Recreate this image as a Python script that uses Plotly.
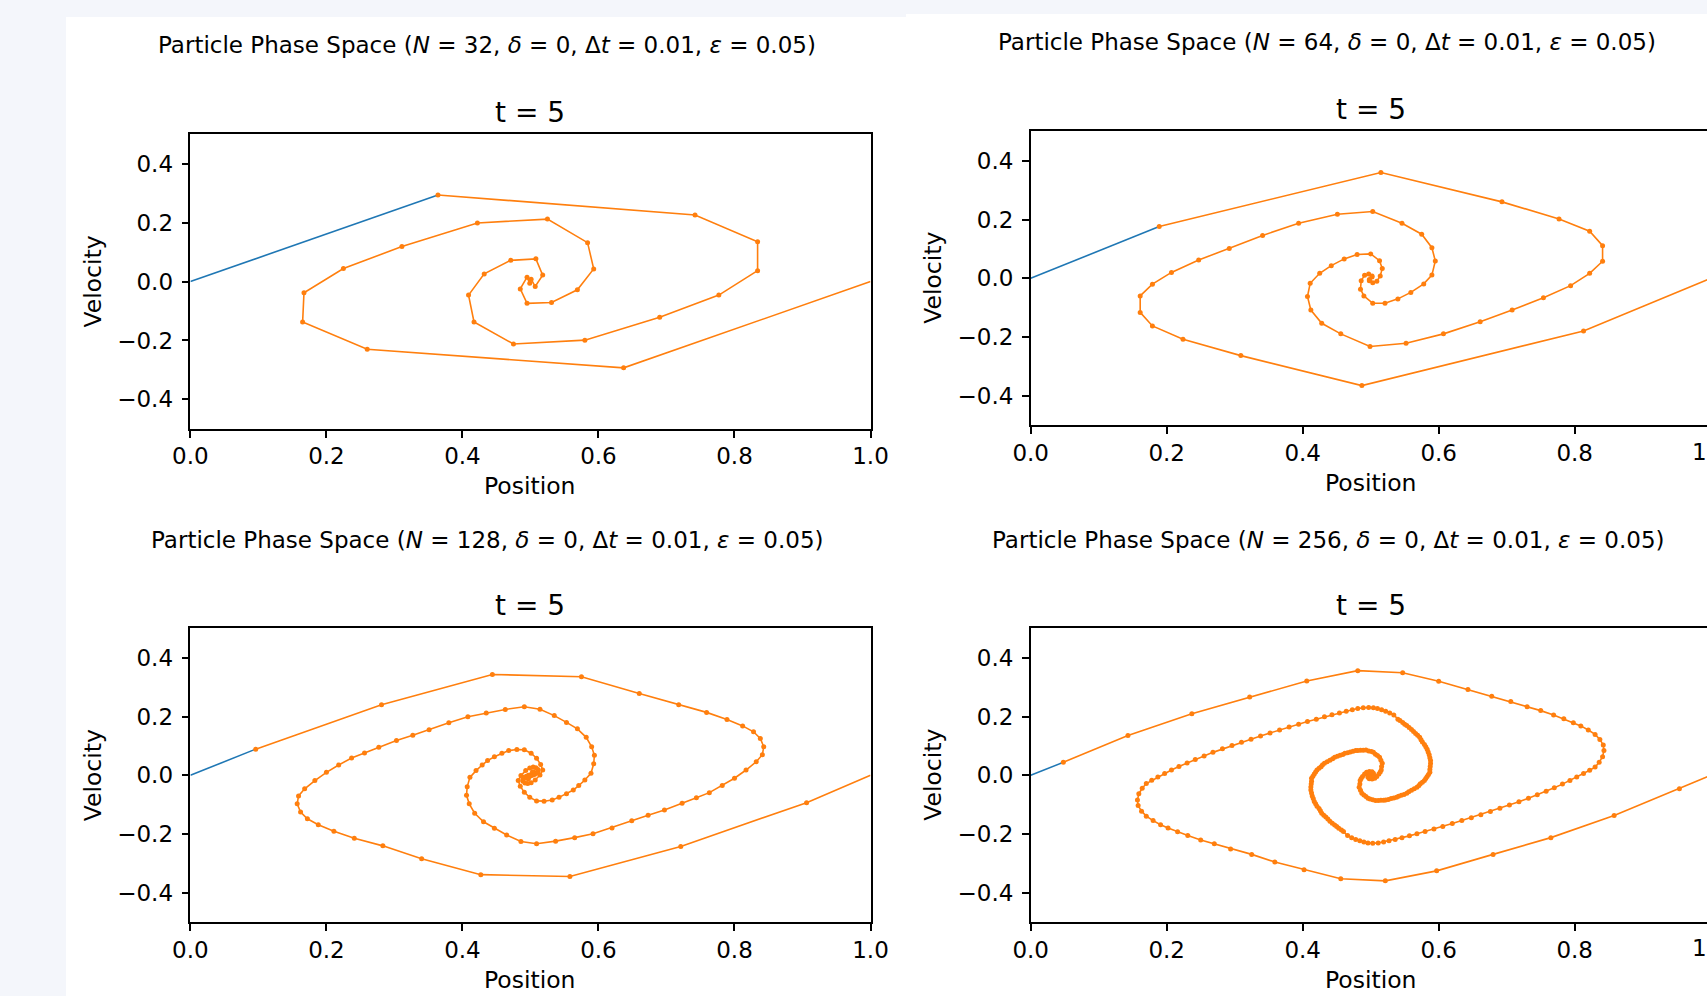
import plotly.graph_objects as go

# ---------------------------------------------------------------
# Particle phase-space snapshots at t = 5 (delta = 0, dt = 0.01, eps = 0.05)
# ---------------------------------------------------------------
x_32 = [0.364, 0.742, 0.834, 0.834, 0.777, 0.690, 0.580, 0.475, 0.417, 0.409,
        0.432, 0.471, 0.508, 0.518, 0.507, 0.501, 0.499, 0.495, 0.485, 0.495,
        0.531, 0.569, 0.593, 0.584, 0.525, 0.422, 0.311, 0.225, 0.167, 0.165,
        0.260, 0.637]
v_32 = [0.294, 0.226, 0.135, 0.037, -0.046, -0.121, -0.199, -0.212, -0.137, -0.046,
        0.026, 0.072, 0.077, 0.022, -0.017, 0.008, -0.006, 0.015, -0.025, -0.074,
        -0.071, -0.028, 0.043, 0.132, 0.212, 0.199, 0.119, 0.044, -0.038, -0.137,
        -0.230, -0.293]

x_64 = [0.189, 0.515, 0.693, 0.777, 0.822, 0.841, 0.841, 0.822, 0.794, 0.754,
        0.708, 0.661, 0.607, 0.552, 0.499, 0.456, 0.428, 0.412, 0.407, 0.411,
        0.425, 0.442, 0.461, 0.480, 0.500, 0.513, 0.517, 0.514, 0.509, 0.503,
        0.498, 0.502, 0.498, 0.502, 0.497, 0.491, 0.486, 0.485, 0.490, 0.503,
        0.521, 0.540, 0.559, 0.578, 0.590, 0.595, 0.590, 0.575, 0.546, 0.503,
        0.451, 0.394, 0.341, 0.292, 0.247, 0.207, 0.179, 0.161, 0.161, 0.179,
        0.224, 0.309, 0.487, 0.813]
v_64 = [0.176, 0.360, 0.260, 0.202, 0.160, 0.111, 0.058, 0.017, -0.025, -0.066,
        -0.108, -0.148, -0.189, -0.221, -0.232, -0.189, -0.153, -0.108, -0.062, -0.017,
        0.017, 0.043, 0.066, 0.081, 0.083, 0.060, 0.033, 0.008, -0.010, -0.015,
        -0.004, 0.008, -0.008, 0.004, 0.015, 0.010, -0.008, -0.037, -0.060, -0.085,
        -0.085, -0.070, -0.048, -0.019, 0.011, 0.059, 0.104, 0.150, 0.187, 0.227,
        0.218, 0.187, 0.146, 0.101, 0.062, 0.020, -0.020, -0.060, -0.116, -0.162,
        -0.207, -0.263, -0.365, -0.179]

x_128 = [0.096, 0.281, 0.444, 0.575, 0.660, 0.718, 0.759, 0.789, 0.812, 0.828,
         0.838, 0.843, 0.841, 0.832, 0.817, 0.800, 0.782, 0.763, 0.744, 0.723,
         0.697, 0.673, 0.649, 0.620, 0.592, 0.565, 0.537, 0.509, 0.486, 0.465,
         0.447, 0.431, 0.418, 0.410, 0.406, 0.407, 0.411, 0.420, 0.429, 0.437,
         0.447, 0.458, 0.468, 0.480, 0.491, 0.501, 0.509, 0.515, 0.518, 0.514,
         0.507, 0.501, 0.496, 0.492, 0.489, 0.489, 0.491, 0.494, 0.497, 0.500,
         0.503, 0.505, 0.505, 0.503, 0.497, 0.495, 0.495, 0.497, 0.500, 0.503,
         0.506, 0.509, 0.511, 0.511, 0.508, 0.504, 0.499, 0.493, 0.486, 0.482,
         0.485, 0.491, 0.499, 0.509, 0.520, 0.532, 0.542, 0.553, 0.563, 0.571,
         0.580, 0.589, 0.593, 0.594, 0.590, 0.582, 0.569, 0.553, 0.535, 0.514,
         0.491, 0.463, 0.435, 0.408, 0.380, 0.351, 0.327, 0.303, 0.277, 0.256,
         0.237, 0.218, 0.200, 0.183, 0.168, 0.159, 0.157, 0.162, 0.172, 0.188,
         0.211, 0.241, 0.283, 0.340, 0.427, 0.558, 0.721, 0.906]
v_128 = [0.089, 0.240, 0.343, 0.335, 0.278, 0.240, 0.214, 0.190, 0.168, 0.148,
         0.125, 0.097, 0.070, 0.046, 0.018, -0.010, -0.035, -0.059, -0.076, -0.095,
         -0.118, -0.136, -0.155, -0.179, -0.199, -0.212, -0.224, -0.233, -0.225, -0.203,
         -0.180, -0.158, -0.129, -0.097, -0.068, -0.039, -0.007, 0.016, 0.035, 0.050,
         0.063, 0.075, 0.084, 0.088, 0.087, 0.075, 0.058, 0.037, 0.018, 0.001,
         -0.016, -0.025, -0.028, -0.026, -0.020, -0.013, -0.007, -0.003, 0.000, 0.002,
         0.004, 0.007, 0.010, 0.012, -0.012, -0.010, -0.007, -0.004, -0.002, 0.000,
         0.003, 0.007, 0.013, 0.020, 0.026, 0.028, 0.025, 0.016, -0.001, -0.018,
         -0.037, -0.058, -0.075, -0.087, -0.088, -0.084, -0.075, -0.063, -0.050, -0.035,
         -0.016, 0.007, 0.039, 0.068, 0.097, 0.129, 0.158, 0.180, 0.203, 0.225,
         0.233, 0.224, 0.212, 0.199, 0.179, 0.155, 0.136, 0.118, 0.095, 0.076,
         0.059, 0.035, 0.010, -0.018, -0.046, -0.070, -0.097, -0.125, -0.148, -0.168,
         -0.190, -0.214, -0.240, -0.284, -0.338, -0.344, -0.242, -0.093]

x_256 = [0.048, 0.143, 0.237, 0.322, 0.406, 0.481, 0.547, 0.600, 0.643, 0.678,
         0.706, 0.730, 0.750, 0.769, 0.784, 0.798, 0.809, 0.820, 0.830, 0.837,
         0.842, 0.843, 0.841, 0.836, 0.830, 0.822, 0.813, 0.803, 0.793, 0.782,
         0.770, 0.758, 0.745, 0.732, 0.718, 0.704, 0.690, 0.676, 0.662, 0.648,
         0.634, 0.620, 0.606, 0.593, 0.580, 0.568, 0.557, 0.546, 0.536, 0.527,
         0.519, 0.511, 0.503, 0.496, 0.490, 0.484, 0.478, 0.472, 0.466, 0.460,
         0.457, 0.453, 0.450, 0.447, 0.4435, 0.440, 0.437, 0.434, 0.431, 0.428,
         0.426, 0.424, 0.421, 0.419, 0.417, 0.4155, 0.414, 0.413, 0.412, 0.412,
         0.4125, 0.413, 0.413, 0.415, 0.417, 0.419, 0.421, 0.424, 0.427, 0.429,
         0.432, 0.436, 0.440, 0.444, 0.447, 0.451, 0.455, 0.459, 0.462, 0.466,
         0.470, 0.474, 0.478, 0.481, 0.485, 0.489, 0.493, 0.497, 0.501, 0.504,
         0.507, 0.510, 0.513, 0.515, 0.517, 0.516, 0.5155, 0.514, 0.512, 0.509,
         0.506, 0.502, 0.498, 0.496, 0.496, 0.498, 0.500, 0.502,
         0.498, 0.500, 0.502, 0.504, 0.504, 0.502, 0.498, 0.494, 0.491, 0.488,
         0.486, 0.4845, 0.484, 0.483, 0.485, 0.487, 0.490, 0.493, 0.496, 0.499,
         0.503, 0.507, 0.511, 0.515, 0.519, 0.522, 0.526, 0.530, 0.534, 0.538,
         0.541, 0.545, 0.549, 0.553, 0.556, 0.560, 0.564, 0.568, 0.571, 0.573,
         0.576, 0.579, 0.581, 0.583, 0.585, 0.587, 0.587, 0.5875, 0.588, 0.588,
         0.587, 0.586, 0.5845, 0.583, 0.581, 0.579, 0.576, 0.574, 0.572, 0.569,
         0.566, 0.563, 0.560, 0.5565, 0.553, 0.550, 0.547, 0.543, 0.540, 0.534,
         0.528, 0.522, 0.516, 0.510, 0.504, 0.497, 0.489, 0.481, 0.473, 0.464,
         0.454, 0.443, 0.432, 0.420, 0.407, 0.394, 0.380, 0.366, 0.352, 0.338,
         0.324, 0.310, 0.296, 0.282, 0.268, 0.255, 0.242, 0.230, 0.218, 0.207,
         0.197, 0.187, 0.178, 0.170, 0.164, 0.159, 0.157, 0.158, 0.163, 0.170,
         0.180, 0.191, 0.202, 0.216, 0.231, 0.250, 0.270, 0.294, 0.325, 0.359,
         0.402, 0.456, 0.5215, 0.597, 0.680, 0.765, 0.858, 0.954]
v_256 = [0.044, 0.135, 0.209, 0.266, 0.321, 0.356, 0.349, 0.320, 0.292, 0.269,
         0.251, 0.233, 0.220, 0.205, 0.192, 0.179, 0.168, 0.154, 0.139, 0.122,
         0.103, 0.084, 0.063, 0.044, 0.028, 0.017, 0.006, -0.006, -0.018, -0.030,
         -0.042, -0.054, -0.066, -0.078, -0.090, -0.101, -0.112, -0.123, -0.134, -0.144,
         -0.154, -0.164, -0.174, -0.183, -0.191, -0.199, -0.206, -0.212, -0.218, -0.223,
         -0.227, -0.230, -0.231, -0.230, -0.227, -0.223, -0.218, -0.212, -0.205, -0.191,
         -0.186, -0.180, -0.174, -0.169, -0.163, -0.156, -0.149, -0.142, -0.136, -0.129,
         -0.121, -0.113, -0.105, -0.097, -0.089, -0.079, -0.070, -0.060, -0.050, -0.040,
         -0.030, -0.020, -0.010, -0.003, 0.004, 0.011, 0.018, 0.024, 0.029, 0.035,
         0.041, 0.046, 0.051, 0.056, 0.061, 0.065, 0.068, 0.071, 0.075, 0.077,
         0.079, 0.082, 0.084, 0.0845, 0.085, 0.0855, 0.086, 0.083, 0.081, 0.078,
         0.072, 0.067, 0.061, 0.051, 0.041, 0.030, 0.018, 0.011, 0.004, -0.004,
         -0.010, -0.013, -0.012, -0.007, -0.001, 0.004, 0.005, 0.003,
         -0.003, -0.005, -0.004, 0.001, 0.007, 0.012, 0.013, 0.010, 0.004, -0.004,
         -0.011, -0.018, -0.030, -0.041, -0.051, -0.061, -0.067, -0.072, -0.078, -0.081,
         -0.083, -0.086, -0.0855, -0.085, -0.0845, -0.084, -0.082, -0.079, -0.077, -0.075,
         -0.071, -0.068, -0.065, -0.061, -0.056, -0.051, -0.046, -0.041, -0.035, -0.029,
         -0.024, -0.018, -0.011, -0.004, 0.003, 0.010, 0.020, 0.030, 0.040, 0.050,
         0.060, 0.070, 0.079, 0.089, 0.097, 0.105, 0.113, 0.121, 0.129, 0.136,
         0.142, 0.149, 0.156, 0.163, 0.169, 0.174, 0.180, 0.186, 0.191, 0.205,
         0.212, 0.218, 0.223, 0.227, 0.230, 0.231, 0.230, 0.227, 0.223, 0.218,
         0.212, 0.206, 0.199, 0.191, 0.183, 0.174, 0.164, 0.154, 0.144, 0.134,
         0.123, 0.112, 0.101, 0.090, 0.078, 0.066, 0.054, 0.042, 0.030, 0.018,
         0.006, -0.006, -0.017, -0.028, -0.044, -0.063, -0.084, -0.103, -0.122, -0.139,
         -0.154, -0.168, -0.179, -0.192, -0.205, -0.220, -0.233, -0.251, -0.269, -0.295,
         -0.321, -0.352, -0.359, -0.325, -0.269, -0.212, -0.137, -0.046]

# periodic boundary points of the domain [0, 1]
x_bounds = [0.0, 1.0]
v_bounds = [0.0, 0.0]

n_labels = [32, 64, 128, 256]
time_label = "t = 5"
x_ticks = [0.0, 0.2, 0.4, 0.6, 0.8, 1.0]
y_ticks = [-0.4, -0.2, 0.0, 0.2, 0.4]

# ---------------------------------------------------------------
# page geometry (pixels)
# ---------------------------------------------------------------
W, H = 1707, 996
PAGE_BG = "#f4f6fb"
BLUE = "#1f77b4"
ORANGE = "#ff7f0e"
FONT = "DejaVu Sans"


def fx(p):
    return p / W


def fy(p):
    return 1 - p / H


# axes boxes: left, right(1.0), top, bottom in pixels
boxes = [
    dict(l=190.4, r=870.5, t=134.3, b=428.8),
    dict(l=1030.7, r=1710.7, t=131.3, b=425.3),
    dict(l=190.4, r=870.5, t=628.3, b=922.3),
    dict(l=1030.7, r=1710.7, t=628.3, b=922.3),
]
# text anchors: suptitle centre, axes-title centre, x-label y, y-label x, tick-label y
texts = [
    dict(sup=(486.6, 45.0), ttl=(530.4, 112.5), xl=486.0, yl=93.0, tk=454.2),
    dict(sup=(1327.2, 42.0), ttl=(1370.7, 109.2), xl=483.3, yl=933.5, tk=451.7),
    dict(sup=(487.5, 539.5), ttl=(530.4, 605.8), xl=980.0, yl=93.0, tk=948.3),
    dict(sup=(1328.0, 539.5), ttl=(1370.7, 605.8), xl=980.0, yl=933.5, tk=948.3),
]

series = [(x_32, v_32), (x_64, v_64), (x_128, v_128), (x_256, v_256)]

fig = go.Figure()
annotations = []
shapes = [
    # white cards behind the two columns
    dict(type="rect", xref="paper", yref="paper", x0=fx(66), x1=fx(906),
         y0=0, y1=fy(17), fillcolor="white", line_width=0, layer="below"),
    dict(type="rect", xref="paper", yref="paper", x0=fx(906), x1=1,
         y0=0, y1=fy(14), fillcolor="white", line_width=0, layer="below"),
]

layout_axes = {}
for i, ((xs, vs), box, tx, n) in enumerate(zip(series, boxes, texts, n_labels)):
    k = i + 1
    xa = "x" if k == 1 else f"x{k}"
    ya = "y" if k == 1 else f"y{k}"

    fig.add_trace(go.Scatter(x=[x_bounds[0], xs[0]], y=[v_bounds[0], vs[0]],
                             mode="lines", line=dict(color=BLUE, width=1.6),
                             xaxis=xa, yaxis=ya, hoverinfo="skip"))
    fig.add_trace(go.Scatter(x=xs + [x_bounds[1]], y=vs + [v_bounds[1]],
                             mode="lines", line=dict(color=ORANGE, width=1.6),
                             xaxis=xa, yaxis=ya, hoverinfo="skip"))
    fig.add_trace(go.Scatter(x=xs, y=vs, mode="markers",
                             marker=dict(color=ORANGE, size=5, line_width=0),
                             xaxis=xa, yaxis=ya, hoverinfo="skip"))

    right_col = box["r"] > W
    x_end = (W - box["l"]) / (box["r"] - box["l"]) if right_col else 1.0
    dom_x = [fx(box["l"]), 1.0 if right_col else fx(box["r"])]
    axis_common = dict(showline=True, linecolor="black", linewidth=1.5,
                       ticks="outside", ticklen=7, tickwidth=1.5, tickcolor="black",
                       showgrid=False, zeroline=False, fixedrange=True,
                       automargin=False,
                       tickfont=dict(family=FONT, size=23, color="black"),
                       tickformat=".1f")
    shown_x = [t for t in x_ticks if t <= x_end]
    layout_axes["xaxis" if k == 1 else f"xaxis{k}"] = dict(
        axis_common, domain=dom_x, range=[0, x_end], tickvals=shown_x,
        anchor=ya, mirror=True, ticklabelstandoff=-1)
    layout_axes["yaxis" if k == 1 else f"yaxis{k}"] = dict(
        axis_common, domain=[fy(box["b"]), fy(box["t"])], range=[-0.5, 0.5],
        tickvals=y_ticks, anchor=xa, mirror=not right_col, ticklabelstandoff=4)

    sup = (f"Particle Phase Space (<i>N</i> = {n}, <i>δ</i> = 0, "
           f"Δ<i>t</i> = 0.01, <i>ε</i> = 0.05)")
    annotations.append(dict(text=sup, x=fx(tx["sup"][0]), y=fy(tx["sup"][1]),
                            xref="paper", yref="paper", showarrow=False,
                            xanchor="center", yanchor="middle",
                            font=dict(family=FONT, size=23, color="black")))
    annotations.append(dict(text=time_label, x=fx(tx["ttl"][0]), y=fy(tx["ttl"][1]),
                            xref="paper", yref="paper", showarrow=False,
                            xanchor="center", yanchor="middle",
                            font=dict(family=FONT, size=28, color="black")))
    annotations.append(dict(text="Position", x=fx((box["l"] + box["r"]) / 2),
                            y=fy(tx["xl"]), xref="paper", yref="paper",
                            showarrow=False, xanchor="center", yanchor="middle",
                            font=dict(family=FONT, size=23.5, color="black")))
    annotations.append(dict(text="Velocity", x=fx(tx["yl"]),
                            y=fy((box["t"] + box["b"]) / 2), xref="paper",
                            yref="paper", showarrow=False, textangle=-90,
                            xanchor="center", yanchor="middle",
                            font=dict(family=FONT, size=23.5, color="black")))
    if right_col:
        # last tick label sits just past the page edge
        annotations.append(dict(text=f"{x_ticks[-1]:.1f}", x=fx(box["r"]),
                                y=fy(tx["tk"]), xref="paper", yref="paper",
                                showarrow=False, xanchor="center", yanchor="middle",
                                font=dict(family=FONT, size=23, color="black")))

fig.update_layout(
    width=W, height=H, autosize=False,
    margin=dict(l=0, r=0, t=0, b=0, pad=0, autoexpand=False),
    paper_bgcolor=PAGE_BG, plot_bgcolor="white",
    showlegend=False, hovermode=False,
    annotations=annotations, shapes=shapes,
    **layout_axes,
)

fig.write_html("out.html", config={"displayModeBar": False})
